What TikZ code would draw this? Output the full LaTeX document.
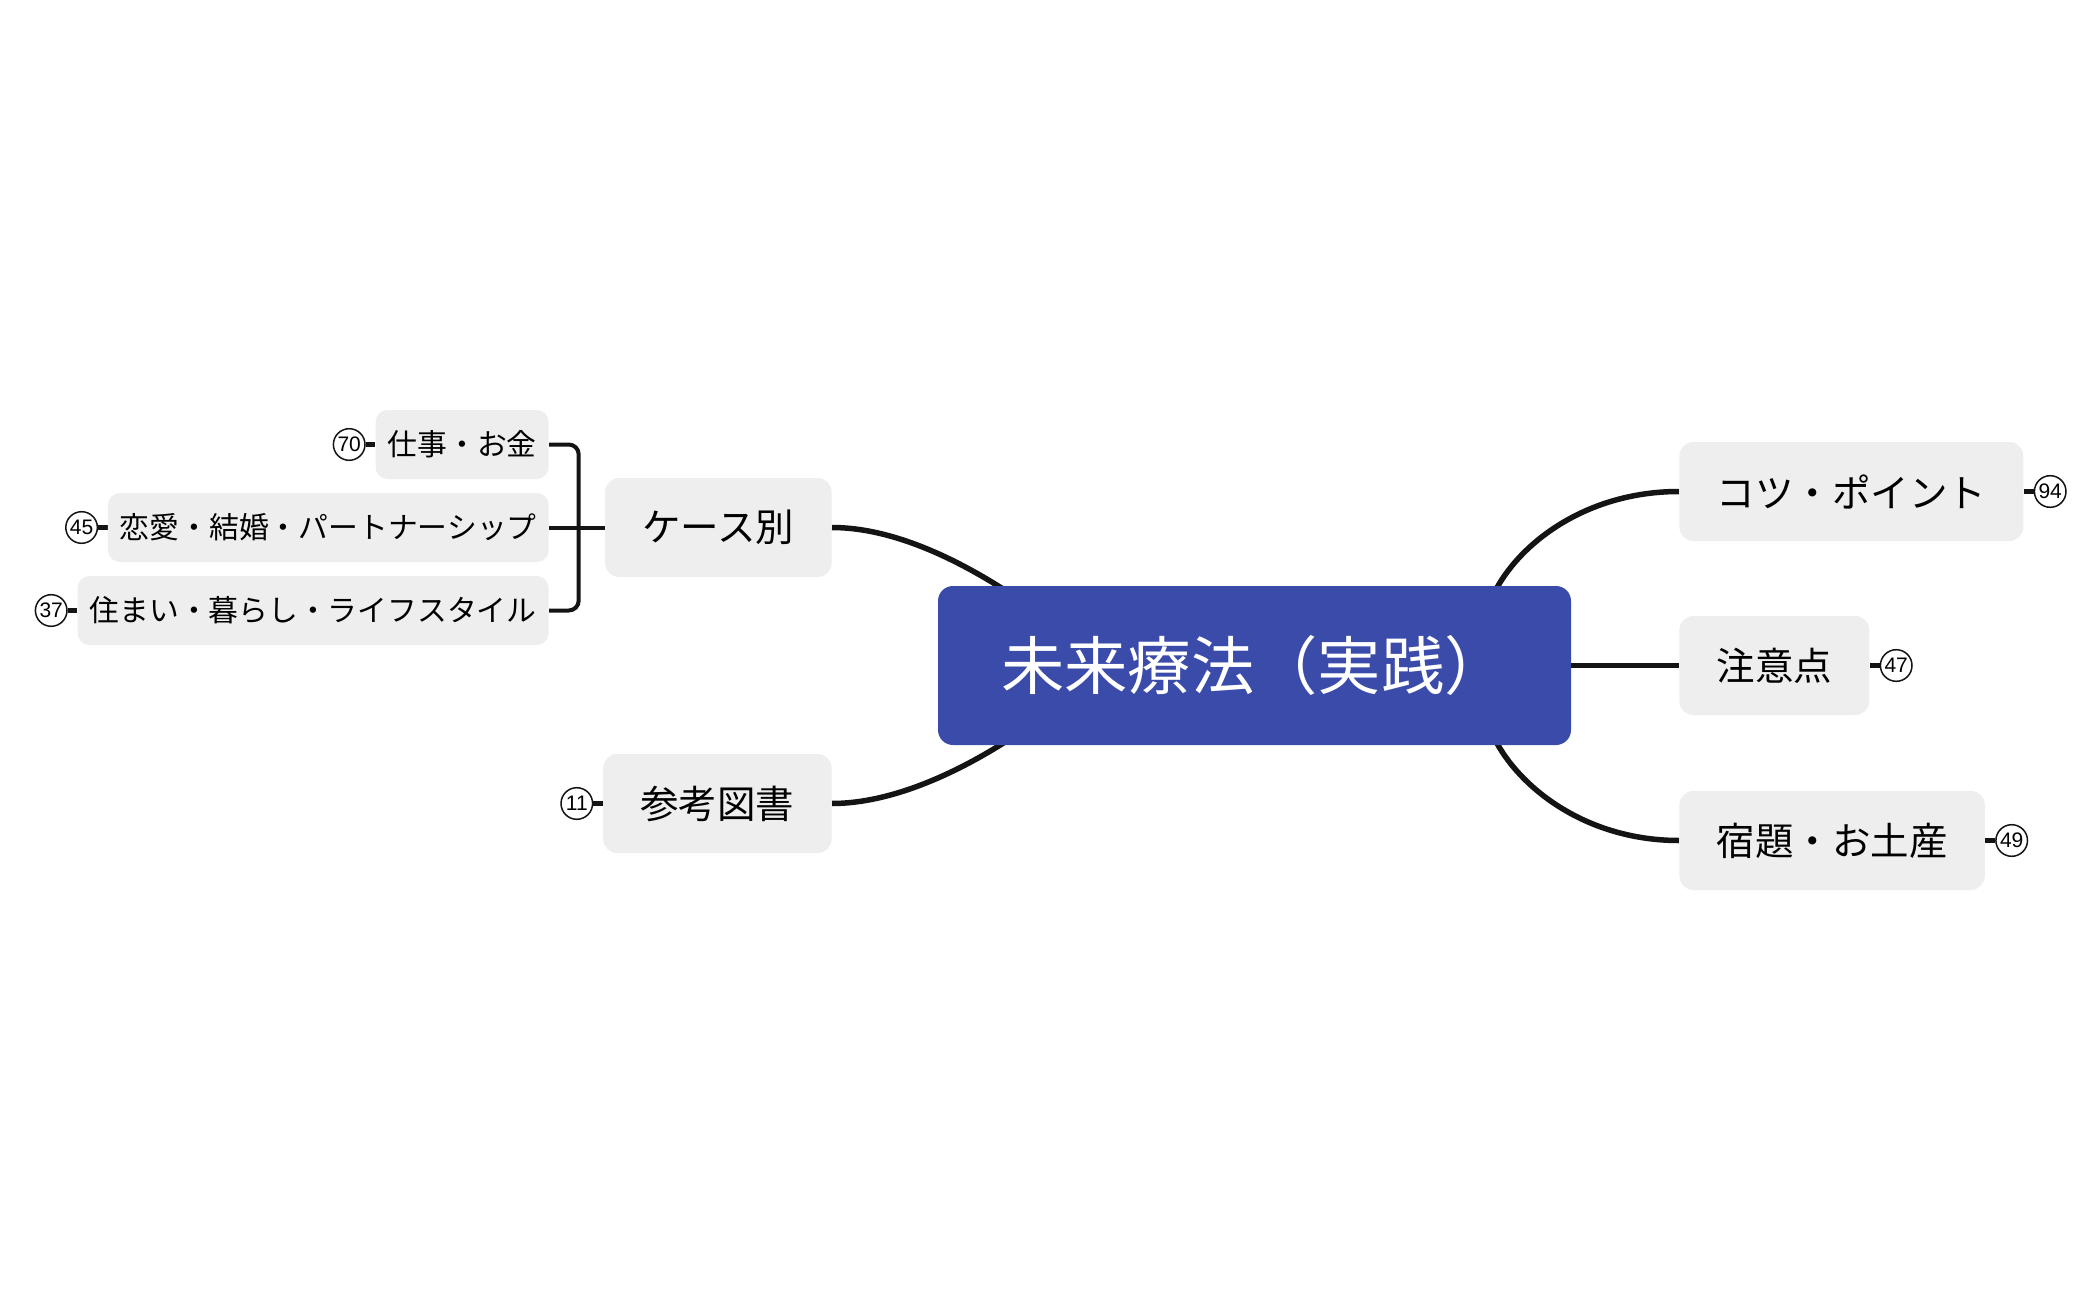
\documentclass[tikz,border=0pt]{standalone}
\usepackage{fontspec}
\setmainfont{Noto Sans CJK JP}
\newfontfamily\numfont{Liberation Sans}
\usetikzlibrary{calc}
\definecolor{rootblue}{RGB}{58,75,170}
\definecolor{boxgray}{RGB}{238,238,238}
\definecolor{linecol}{RGB}{20,20,20}
\pgfdeclarelayer{bg}
\pgfdeclarelayer{lines}
\pgfsetlayers{bg,lines,main}
\begin{document}
\begin{tikzpicture}[x=0.5pt,y=-0.5pt,
  rootbox/.style={fill=rootblue, rounded corners=7.5pt, minimum width=316.5pt, minimum height=79.5pt, inner sep=0pt, text=white, font=\fontsize{31.65pt}{38pt}\selectfont},
  topicbox/.style={fill=boxgray, rounded corners=7pt, minimum height=49.5pt, inner xsep=18.6pt, inner ysep=0pt, font=\fontsize{19.25pt}{23pt}\selectfont},
  subbox/.style={fill=boxgray, rounded corners=6pt, minimum height=34.5pt, inner xsep=6pt, inner ysep=0pt, font=\fontsize{14.9pt}{18pt}\selectfont},
  badge/.style={circle, draw=linecol, line width=0.75pt, fill=white, minimum size=15.8pt, inner sep=0pt, font=\numfont\fontsize{10.5pt}{12pt}\selectfont},
  branch/.style={draw=linecol, line width=2.75pt},
  bracket/.style={draw=linecol, line width=2pt, rounded corners=5pt},
  stub/.style={draw=linecol, line width=2.2pt}]

\begin{pgfonlayer}{bg}
  \fill[white] (0,0) rectangle (2100,1300);
\end{pgfonlayer}
\useasboundingbox (0,0) rectangle (2100,1300);

% root
\node[rootbox] (root) at (1254.5,665.5) {未来療法（実践）};

% right topics
\node[topicbox, anchor=west] (kotsu) at (1679,491.5) {コツ・ポイント};
\node[topicbox, anchor=west] (chuui) at (1679,665.5) {注意点};
\node[topicbox, anchor=west] (shuku) at (1679,840.5) {宿題・お土産};

% left topics
\node[topicbox, anchor=east] (case) at (832,527.5) {ケース別};
\node[topicbox, anchor=east] (sankou) at (832,803.5) {参考図書};

% sub topics
\node[subbox, anchor=east] (shigoto) at (549,444.5) {仕事・お金};
\node[subbox, anchor=east] (renai) at (549,527.5) {恋愛・結婚・パートナーシップ};
\node[subbox, anchor=east] (sumai) at (549,610.5) {住まい・暮らし・ライフスタイル};

% badges
\node[badge] (b94) at ($(kotsu.east)+(26.5,0)$) {94};
\node[badge] (b47) at ($(chuui.east)+(26.5,0)$) {47};
\node[badge] (b49) at ($(shuku.east)+(26.5,0)$) {49};
\node[badge] (b11) at ($(sankou.west)+(-26,0)$) {11};
\node[badge] (b70) at ($(shigoto.west)+(-26,0)$) {70};
\node[badge] (b45) at ($(renai.west)+(-26,0)$) {45};
\node[badge] (b37) at ($(sumai.west)+(-26,0)$) {37};

\begin{pgfonlayer}{lines}
  % root branches
  \draw[branch] ($(root.north east)+(-78,9)$) .. controls +(24,-50) and +(-94,0) .. (kotsu.west);
  \draw[branch] (root.east) -- (chuui.west);
  \draw[branch] ($(root.south east)+(-78,-9)$) .. controls +(24,50) and +(-94,0) .. (shuku.west);
  \draw[branch] ($(root.north west)+(68,5)$) .. controls +(-50,-32) and +(60,0) .. (case.east);
  \draw[branch] ($(root.south west)+(70,-5)$) .. controls +(-50,32) and +(60,0) .. (sankou.east);
  % bracket
  \draw[bracket] (shigoto.east) -| ($(case.west)+(-26,0)$) |- (sumai.east);
  \draw[bracket] (renai.east) -- (case.west);
  % stubs
  \draw[stub] (kotsu.east) -- (b94.west);
  \draw[stub] (chuui.east) -- (b47.west);
  \draw[stub] (shuku.east) -- (b49.west);
  \draw[stub] (sankou.west) -- (b11.east);
  \draw[stub] (shigoto.west) -- (b70.east);
  \draw[stub] (renai.west) -- (b45.east);
  \draw[stub] (sumai.west) -- (b37.east);
\end{pgfonlayer}
\end{tikzpicture}
\end{document}
